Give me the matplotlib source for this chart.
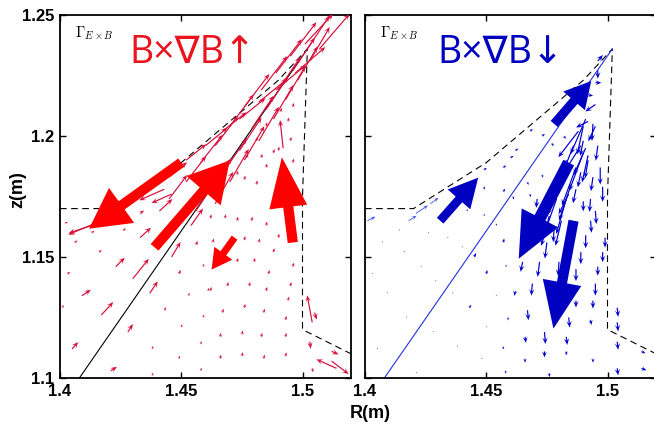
import numpy as np
import matplotlib
matplotlib.use("Agg")
import matplotlib.pyplot as plt

plt.rcParams['font.family'] = ['Liberation Sans', 'DejaVu Sans']
plt.rcParams['mathtext.fontset'] = 'cm'

# ---------------- data ----------------
xtick_vals = [1.4, 1.45, 1.5]
xtick_labels = ['1.4', '1.45', '1.5']
ytick_vals = [1.1, 1.15, 1.2, 1.25]
ytick_labels = ['1.1', '1.15', '1.2', '1.25']

# wall / divertor boundary (dashed) and separatrix leg (solid)
wall_R = [1.400, 1.420, 1.450, 1.490, 1.502, 1.500, 1.500, 1.520]
wall_z = [1.170, 1.170, 1.189, 1.223, 1.236, 1.175, 1.120, 1.110]
leg_R = [1.408, 1.502]
leg_z = [1.100, 1.236]

# Gamma_ExB vectors: R, z, flux_R, flux_z (flux in arbitrary units)
red_band = np.array([
    [1.437, 1.178, 16, 13], [1.445, 1.183, 18, 15], [1.452, 1.190, 20, 16],
    [1.460, 1.196, 22, 18], [1.467, 1.202, 24, 19], [1.474, 1.207, 26, 21],
    [1.482, 1.214, 28, 23], [1.489, 1.219, 30, 25], [1.497, 1.226, 30, 26],
    [1.445, 1.174, 18, 24], [1.452, 1.181, 20, 26], [1.458, 1.189, 22, 28],
    [1.464, 1.196, 23, 30], [1.470, 1.204, 24, 32], [1.476, 1.212, 25, 33],
    [1.483, 1.219, 26, 34], [1.489, 1.226, 26, 34], [1.495, 1.233, 26, 34],
    [1.456, 1.169, 20, 30], [1.462, 1.178, 21, 31], [1.468, 1.186, 22, 32],
    [1.474, 1.194, 22, 33], [1.479, 1.203, 22, 33], [1.485, 1.211, 22, 33],
    [1.490, 1.219, 22, 33], [1.496, 1.227, 22, 33], [1.502, 1.236, 22, 33],
    [1.464, 1.172, 18, 32], [1.470, 1.181, 19, 33], [1.476, 1.190, 20, 34],
    [1.482, 1.198, 20, 34], [1.488, 1.207, 20, 34], [1.493, 1.215, 20, 34],
    [1.498, 1.223, 20, 34], [1.503, 1.231, 20, 34], [1.507, 1.236, 30, 35],
    [1.501, 1.238, 28, 30],
])
red_reverse = np.array([
    [1.417, 1.165, -33, -14], [1.416, 1.164, -30, -10],
    [1.443, 1.178, -25, -11], [1.446, 1.176, -20, -9],
])
red_field = np.array([
    [1.423, 1.146, 9, 9], [1.430, 1.141, 16, 20], [1.433, 1.158, 11, 10],
    [1.441, 1.169, 13, 12], [1.417, 1.126, 12, 13], [1.409, 1.134, 9, 6],
    [1.405, 1.112, 6, 7], [1.428, 1.119, 5, 8], [1.437, 1.135, 8, 12],
    [1.446, 1.150, 9, 15], [1.454, 1.163, 12, 17], [1.421, 1.103, 6, 4],
    [1.402, 1.164, 3, 1], [1.406, 1.156, 3, 2], [1.413, 1.160, 3, 2],
    [1.416, 1.152, 3, 2], [1.426, 1.161, 3, 2], [1.433, 1.168, 4, 3],
    [1.403, 1.143, 3, 2], [1.401, 1.129, 1, 3], [1.456, 1.155, 2, 4],
    [1.449, 1.143, 2, 4], [1.453, 1.134, 1, 3], [1.443, 1.128, 2, 3],
    [1.459, 1.146, 1, 3], [1.459, 1.125, 1, 3], [1.450, 1.121, 1, 3],
    [1.458, 1.114, 1, 3], [1.449, 1.108, 1, 3], [1.438, 1.112, 1, 3],
    [1.438, 1.101, 1, 3], [1.461, 1.136, 1, 3], [1.458, 1.103, 1, 3],
    [1.462, 1.166, 1, 4], [1.468, 1.166, 1, 4], [1.473, 1.165, 1, 4],
    [1.479, 1.165, 1, 4], [1.463, 1.156, 1, 4], [1.476, 1.157, 1, 4],
    [1.482, 1.156, 1, 4], [1.485, 1.163, 1, 4], [1.490, 1.158, 1, 4],
    [1.496, 1.146, 1, 4], [1.488, 1.152, 1, 4], [1.480, 1.148, 1, 4],
    [1.473, 1.148, 1, 4], [1.486, 1.143, 1, 4], [1.495, 1.138, 1, 4],
    [1.485, 1.136, 1, 4], [1.478, 1.138, 1, 4], [1.469, 1.138, 1, 4],
    [1.462, 1.136, 1, 4], [1.467, 1.127, 1, 4], [1.476, 1.129, 1, 4],
    [1.484, 1.127, 1, 4], [1.494, 1.132, 1, 4], [1.493, 1.124, 1, 4],
    [1.466, 1.117, 1, 4], [1.475, 1.118, 1, 4], [1.483, 1.117, 1, 4],
    [1.493, 1.117, 1, 4], [1.466, 1.108, 1, 4], [1.475, 1.109, 1, 4],
    [1.484, 1.108, 1, 4], [1.493, 1.109, 1, 4],
    [1.485, 1.204, 1, 4], [1.481, 1.198, 1, 4], [1.477, 1.191, 1, 4],
    [1.473, 1.184, 1, 4], [1.476, 1.182, 1, 4], [1.481, 1.180, 1, 4],
    [1.485, 1.187, 1, 4], [1.488, 1.193, 1, 4], [1.495, 1.198, 1, 4],
    [1.496, 1.189, 1, 4], [1.494, 1.206, 1, 4], [1.496, 1.212, 1, 4],
    [1.491, 1.210, 1, 4], [1.483, 1.191, 1, 4], [1.490, 1.194, 1, 4],
    [1.492, 1.195, -3, 28],
])
red_corner = np.array([
    [1.504, 1.123, -5, 27], [1.505, 1.127, 2, -7], [1.503, 1.115, 1, -7],
    [1.504, 1.104, 1, -4], [1.514, 1.104, -20, 9], [1.512, 1.111, 7, -3],
    [1.512, 1.107, 17, -13],
])
# emphasised net-flux arrows: R, z, dR, dz (m)
red_thick = np.array([
    [1.450, 1.189, -0.0380, -0.0273],
    [1.439, 1.154, 0.0310, 0.0359],
    [1.496, 1.156, -0.0045, 0.0352],
    [1.472, 1.158, -0.0095, -0.0132],
])

blue_band = np.array([
    [1.488, 1.202, -20, -26], [1.489, 1.196, -17, -27], [1.491, 1.195, -12, -27],
    [1.492, 1.192, -6, -27], [1.491, 1.207, -15, -35], [1.486, 1.196, -16, -40],
    [1.490, 1.193, -14, -38], [1.483, 1.190, -16, -40], [1.487, 1.187, -14, -38],
    [1.481, 1.183, -14, -38], [1.485, 1.180, -12, -36], [1.483, 1.174, -10, -35],
    [1.479, 1.174, -12, -34], [1.476, 1.167, -8, -30], [1.481, 1.165, -6, -25],
    [1.484, 1.176, -10, -20], [1.495, 1.213, -10, -7], [1.492, 1.206, -12, -6],
    [1.495, 1.204, -7, -15], [1.490, 1.198, -3, -15],
])
blue_down = np.array([
    [1.494, 1.205, -1, -17], [1.490, 1.204, -6, -28], [1.496, 1.196, -2, -15],
    [1.492, 1.190, -3, -18], [1.497, 1.187, 0, -17], [1.489, 1.185, -3, -15],
    [1.494, 1.183, -2, -14], [1.498, 1.179, 0, -15], [1.487, 1.178, -3, -14],
    [1.493, 1.174, -1, -13], [1.490, 1.173, 0, -10], [1.495, 1.169, 1, -13],
    [1.493, 1.165, 1, -12], [1.491, 1.159, 0, -13], [1.499, 1.158, 0, -10],
    [1.489, 1.152, 0, -12], [1.498, 1.152, 0, -10], [1.487, 1.145, 0, -12],
    [1.496, 1.146, 0, -9], [1.480, 1.148, -1, -14], [1.472, 1.148, -2, -15],
    [1.465, 1.148, -2, -10], [1.475, 1.156, -2, -16], [1.478, 1.162, -1, -14],
    [1.471, 1.174, -1, -9], [1.495, 1.139, 0, -12], [1.469, 1.139, -1, -12],
    [1.462, 1.136, -1, -5], [1.494, 1.132, 0, -8], [1.487, 1.132, 0, -7],
    [1.467, 1.128, 1, -10], [1.504, 1.129, 1, -9], [1.504, 1.123, 1, -9],
    [1.484, 1.125, 1, -10], [1.493, 1.124, 1, -5], [1.466, 1.117, 1, -6],
    [1.474, 1.119, 1, -12], [1.483, 1.117, 1, -8], [1.504, 1.115, 1, -8],
    [1.514, 1.111, 4, -2], [1.474, 1.111, 0, -6], [1.466, 1.108, 0, -4],
    [1.483, 1.111, 0, -4], [1.504, 1.104, 1, -7], [1.514, 1.104, 5, -2],
    [1.476, 1.102, 0, -4], [1.494, 1.108, 0, -4],
])
blue_field = np.array([
    [1.414, 1.161, 1, 1], [1.407, 1.156, 1, 1], [1.426, 1.160, 1, 1],
    [1.434, 1.158, 1, 1], [1.440, 1.154, 1, 1], [1.416, 1.152, 1, 1],
    [1.423, 1.146, 1, 1], [1.403, 1.143, 1, 1], [1.429, 1.140, 1, 1],
    [1.409, 1.135, 1, 1], [1.436, 1.135, 1, 1], [1.445, 1.150, 2, 4],
    [1.450, 1.143, 1, 4], [1.454, 1.134, 1, 1], [1.443, 1.129, 2, 3],
    [1.417, 1.125, 1, 1], [1.428, 1.119, 1, 1], [1.405, 1.112, 1, 1],
    [1.438, 1.113, 1, 1], [1.450, 1.121, 1, 1], [1.448, 1.108, 1, 1],
    [1.421, 1.102, 1, 1], [1.458, 1.103, 0, -3], [1.457, 1.156, 1, 4],
    [1.458, 1.146, 1, 2], [1.459, 1.125, 0, -3], [1.457, 1.113, 0, -3],
    [1.449, 1.167, 1, 2], [1.454, 1.163, 1, 2], [1.442, 1.169, 1, 2],
    [1.449, 1.186, 3, 2], [1.457, 1.187, 3, 2], [1.460, 1.191, 3, 2],
    [1.462, 1.194, 3, 2], [1.468, 1.202, 3, 2], [1.473, 1.200, 3, 2],
    [1.479, 1.207, 3, 2], [1.482, 1.200, 2, -3], [1.477, 1.197, 2, -3],
    [1.449, 1.178, 1, 3], [1.457, 1.177, 2, 3], [1.461, 1.175, 1, -3],
    [1.467, 1.181, 1, -3], [1.473, 1.184, 1, -3], [1.468, 1.176, 1, -3],
    [1.495, 1.222, 6, 0], [1.492, 1.217, 5, -1], [1.496, 1.231, 5, 6],
    [1.496, 1.227, 0, -8],
])
blue_edge = np.array([
    [1.401, 1.165, 8, 4], [1.418, 1.165, 8, 5],
    [1.421, 1.168, 12, 8], [1.427, 1.172, 8, 6],
])
blue_thick = np.array([
    [1.431, 1.165, 0.0157, 0.0178],
    [1.478, 1.205, 0.0153, 0.0177],
    [1.484, 1.189, -0.0206, -0.0397],
    [1.486, 1.165, -0.0083, -0.0446],
])

# ---------------- styles ----------------
RED_THIN = '#d8103c'
RED_THICK = '#ff0000'
RED_TEXT = '#e8141e'
BLUE_THIN = '#0000d0'
BLUE_LIGHT = '#4a5ae8'
BLUE_THICK = '#0000c0'
BLUE_TEXT = '#0000c0'
# (shaft width, head width, head length) in data units
red_thick_style = [(0.0042, 0.0178, 0.0165), (0.0042, 0.0186, 0.0165),
                   (0.0042, 0.0157, 0.0207), (0.0029, 0.0091, 0.0083)]
blue_thick_style = [(0.0036, 0.0124, 0.0120), (0.0038, 0.0118, 0.0108),
                    (0.0050, 0.0170, 0.0190), (0.0042, 0.0161, 0.0194)]

FLUX_SCALE = 2420  # flux units per metre of arrow length

fig = plt.figure(figsize=(6.54, 4.29), dpi=100)
axL = fig.add_axes([60 / 654, 51 / 429, 291 / 654, 363 / 429])
axR = fig.add_axes([365 / 654, 51 / 429, 291 / 654, 363 / 429])


def quiv(ax, arr, color, width=1.2):
    ax.quiver(arr[:, 0], arr[:, 1], arr[:, 2], arr[:, 3],
              angles='xy', scale_units='xy', scale=FLUX_SCALE,
              color=color, units='dots', width=width,
              headwidth=4.5, headlength=5.5, headaxislength=3.5,
              minlength=0.8, zorder=3)


def thick(ax, arr, styles, color):
    for (r, z, dr, dz), (w, hw, hl) in zip(arr, styles):
        ax.arrow(r, z, dr, dz, width=w, head_width=hw, head_length=hl,
                 length_includes_head=True, color=color, lw=0, zorder=5)


for ax, lc in ((axL, 'k'), (axR, '#2030e0')):
    ax.set_xlim(1.4, 1.52)
    ax.set_ylim(1.1, 1.25)
    ax.plot(wall_R, wall_z, color='k', lw=0.8, ls=(0, (6, 4)), zorder=2)
    ax.plot(leg_R, leg_z, color=lc, lw=0.8, zorder=2)
    ax.set_xticks(xtick_vals)
    ax.set_xticklabels(xtick_labels, fontweight='bold')
    ax.set_yticks(ytick_vals)
    ax.set_yticklabels(ytick_labels, fontweight='bold')
    ax.tick_params(direction='in', top=True, right=True, length=4, width=1,
                   labelsize=12, pad=4)
    for s in ax.spines.values():
        s.set_linewidth(1.3)
    ax.text(0.052, 0.939, r'$\Gamma_{E\times B}$', transform=ax.transAxes,
            fontsize=10.5, color='k', va='baseline', ha='left')

axR.tick_params(labelleft=False)

quiv(axL, red_band, RED_THIN)
quiv(axL, red_reverse, RED_THIN)
quiv(axL, red_field, RED_THIN)
quiv(axL, red_corner, RED_THIN)
thick(axL, red_thick, red_thick_style, RED_THICK)

quiv(axR, blue_band, BLUE_THIN)
quiv(axR, blue_down, BLUE_THIN)
quiv(axR, blue_field, BLUE_THIN)
quiv(axR, blue_edge, BLUE_LIGHT, width=0.9)
thick(axR, blue_thick, blue_thick_style, BLUE_THICK)

axL.text(0.24, 0.868, 'B×∇B↑', transform=axL.transAxes, color=RED_TEXT,
         fontsize=27, family=['Open Sans', 'DejaVu Sans'], va='baseline', ha='left')
axR.text(0.247, 0.868, 'B×∇B↓', transform=axR.transAxes, color=BLUE_TEXT,
         fontsize=27, family=['Open Sans', 'DejaVu Sans'], va='baseline', ha='left')

fig.text(18 / 654, 1 - 190 / 429, 'z(m)', rotation=90, ha='center', va='center',
         fontsize=13, fontweight='bold')
fig.text(370 / 654, 1 - 413 / 429, 'R(m)', ha='center', va='center',
         fontsize=13, fontweight='bold')

fig.savefig('out.png', dpi=100)
